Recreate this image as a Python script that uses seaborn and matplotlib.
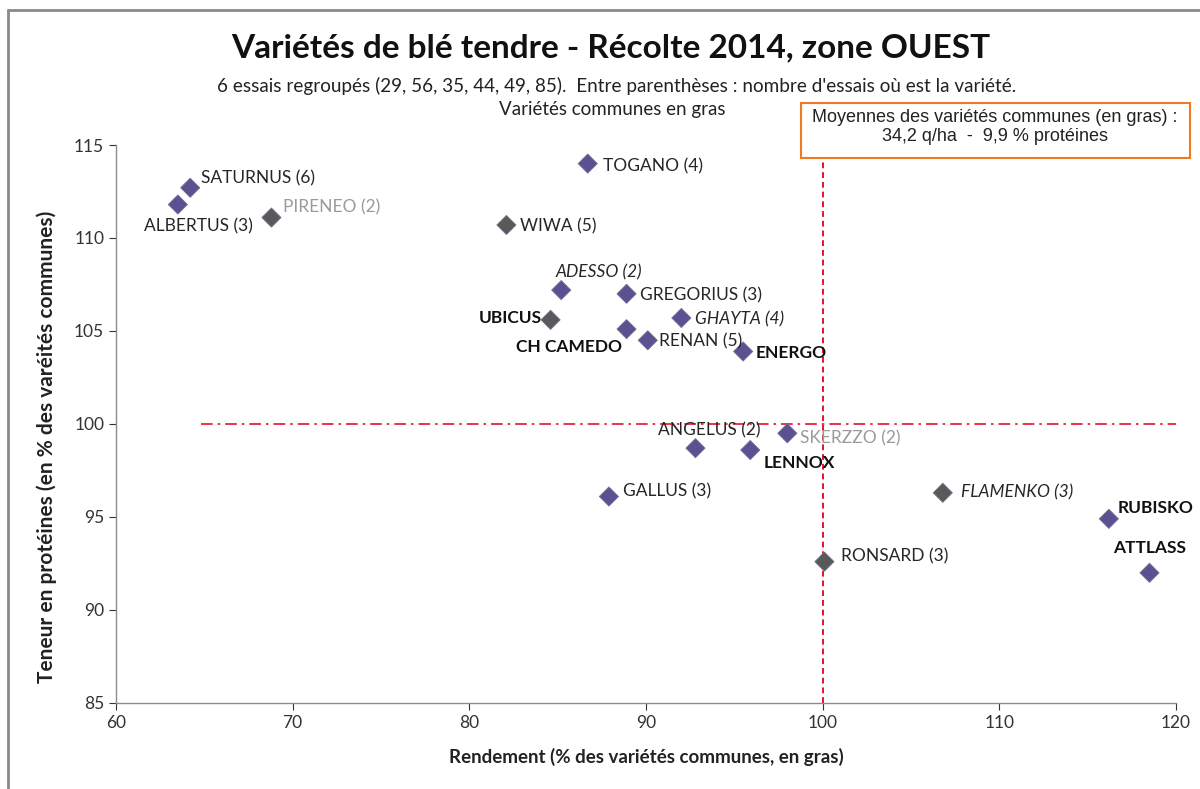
import matplotlib
matplotlib.use("Agg")
import matplotlib.pyplot as plt
import seaborn as sns
import pandas as pd
from matplotlib.patches import Rectangle
from matplotlib.lines import Line2D

varieties = ["SATURNUS (6)", "ALBERTUS (3)", "PIRENEO (2)", "TOGANO (4)", "WIWA (5)",
             "ADESSO (2)", "GREGORIUS (3)", "UBICUS", "GHAYTA (4)", "CH CAMEDO",
             "RENAN (5)", "ENERGO", "ANGELUS (2)", "SKERZZO (2)", "LENNOX",
             "GALLUS (3)", "FLAMENKO (3)", "RUBISKO", "ATTLASS", "RONSARD (3)"]
rendement = [64.2, 63.5, 68.8, 86.7, 82.1,
             85.2, 88.9, 84.6, 92.0, 88.9,
             90.1, 95.5, 92.8, 98.0, 95.9,
             87.9, 106.8, 116.2, 118.5, 100.1]
proteines = [112.7, 111.8, 111.1, 114.0, 110.7,
             107.2, 107.0, 105.6, 105.7, 105.1,
             104.5, 103.9, 98.7, 99.5, 98.6,
             96.1, 96.3, 94.9, 92.0, 92.6]
groupe = ["a", "a", "b", "a", "b",
          "a", "a", "b", "a", "a",
          "a", "a", "a", "a", "a",
          "a", "b", "a", "a", "b"]
styles = ["n", "n", "g", "n", "n",
          "i", "n", "b", "i", "b",
          "n", "b", "n", "g", "b",
          "n", "i", "b", "b", "n"]
# label offsets in points (dx, dy) and horizontal alignment
offsets = [(8, 7, "left"), (15, -16, "center"), (8, 7, "left"), (11, -2, "left"), (10, -1, "left"),
           (-4, 13, "left"), (10, -1, "left"), (-6, 1, "right"), (10, -1, "left"), (-3, -13, "right"),
           (8, -1, "left"), (9, -1, "left"), (10, 13, "center"), (9, -4, "left"), (10, -9, "left"),
           (10, 4, "left"), (13, 0, "left"), (6, 8, "left"), (0, 18, "center"), (12, 4, "left")]

xticks = [60, 70, 80, 90, 100, 110, 120]
yticks = [85, 90, 95, 100, 105, 110, 115]

df = pd.DataFrame({"Rendement": rendement, "Proteines": proteines, "groupe": groupe})

sns.set_theme(style="white")
plt.rcParams["font.family"] = ["Lato", "DejaVu Sans"]

fig = plt.figure(figsize=(12, 7.89), dpi=100)
ax = fig.add_axes([116 / 1200, 1 - 703 / 789, 1060 / 1200, 558 / 789])

sns.scatterplot(data=df, x="Rendement", y="Proteines", hue="groupe",
                palette={"a": "#5b5192", "b": "#595959"}, marker="D", s=95,
                edgecolor="#6f6f90", linewidth=0.6, legend=False, ax=ax, zorder=4)

ax.set_xlim(60, 120)
ax.set_ylim(85, 115)
ax.set_xticks(xticks)
ax.set_yticks(yticks)
ax.tick_params(axis="both", labelsize=12.5, colors="#333333", length=5, width=0.8,
               direction="out", left=True, bottom=True)
for sp in ["top", "right"]:
    ax.spines[sp].set_visible(False)
for sp in ["left", "bottom"]:
    ax.spines[sp].set_color("#8c8c8c")
    ax.spines[sp].set_linewidth(1.0)

ax.set_xlabel("Rendement (% des variétés communes, en gras)", fontsize=13.5,
              fontweight="bold", color="#222222", labelpad=12)
ax.set_ylabel("Teneur en protéines (en % des varéités communes)", fontsize=15,
              fontweight="bold", color="#222222")
ax.yaxis.set_label_coords(-0.056, 0.459)

# reference lines
ax.plot([100, 100], [85, 117], color="#e8102a", linestyle=(0, (3, 2)), linewidth=1.4,
        clip_on=False, zorder=2)
ax.plot([64.8, 120], [100, 100], color="#e8102a", linestyle=(0, (7, 3, 1.5, 3)),
        linewidth=1.2, zorder=2)

for name, x, y, st, (dx, dy, ha) in zip(varieties, rendement, proteines, styles, offsets):
    kw = dict(fontsize=12.5, color="#262626")
    if st == "b":
        kw.update(fontweight="bold", color="#111111")
    elif st == "i":
        kw.update(style="italic")
    elif st == "g":
        kw.update(color="#9a9a9a")
    ax.annotate(name, (x, y), xytext=(dx, dy), textcoords="offset points",
                ha=ha, va="center", zorder=5, **kw)

# titles
fig.text(611 / 1200, 1 - 48 / 789, "Variétés de blé tendre - Récolte 2014, zone OUEST",
         ha="center", va="center", fontsize=24, fontweight="bold", color="#111111")
fig.text(617 / 1200, 1 - 86 / 789,
         "6 essais regroupés (29, 56, 35, 44, 49, 85).  Entre parenthèses : nombre d'essais où est la variété.",
         ha="center", va="center", fontsize=13.6, color="#222222")
fig.text(612 / 1200, 1 - 110 / 789, "Variétés communes en gras",
         ha="center", va="center", fontsize=13.5, color="#222222")

# box with averages
box = Rectangle((801 / 1200, 1 - 158 / 789), 389 / 1200, 55 / 789, transform=fig.transFigure,
                facecolor="white", edgecolor="#f07a22", linewidth=1.5, zorder=10)
fig.add_artist(box)
fig.text(995 / 1200, 1 - 127 / 789, "Moyennes des variétés communes (en gras) :\n34,2 q/ha  -  9,9 % protéines",
         ha="center", va="center", fontsize=13, family=["Liberation Sans", "DejaVu Sans"],
         color="#222222", linespacing=1.2, zorder=11)

# figure frame
fig.add_artist(Line2D([8 / 1200, 8 / 1200], [0, 1 - 10 / 789], transform=fig.transFigure,
                      color="#8a8a8a", linewidth=2))
fig.add_artist(Line2D([8 / 1200, 1], [1 - 10 / 789, 1 - 10 / 789], transform=fig.transFigure,
                      color="#8a8a8a", linewidth=2))

fig.savefig("out.png", dpi=100)
